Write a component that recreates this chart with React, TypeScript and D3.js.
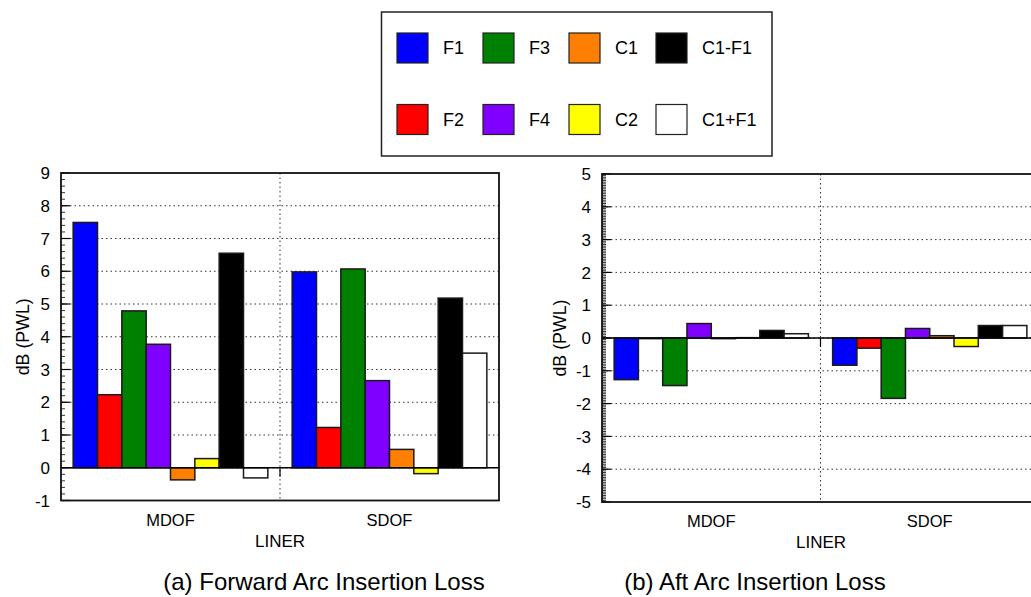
import React from "react";
import * as d3 from "d3";

// liner categories and series (bar order inside each group)
const categories = ["MDOF", "SDOF"];
const seriesNames = ["F1", "F2", "F3", "F4", "C1", "C2", "C1-F1", "C1+F1"];
const seriesColors = ["#0000ff", "#ff0000", "#008000", "#8000ff", "#ff8000", "#ffff00", "#000000", "#ffffff"];

// (a) forward arc insertion loss, dB (PWL)
const forwardMDOF = [7.49, 2.23, 4.79, 3.77, -0.37, 0.28, 6.55, -0.31];
const forwardSDOF = [5.98, 1.23, 6.07, 2.66, 0.56, -0.18, 5.18, 3.5];
// (b) aft arc insertion loss, dB (PWL)
const aftMDOF = [-1.27, -0.02, -1.45, 0.44, -0.02, 0.01, 0.23, 0.13];
const aftSDOF = [-0.83, -0.31, -1.84, 0.29, 0.07, -0.26, 0.38, 0.38];

const forwardTicks = [-1, 0, 1, 2, 3, 4, 5, 6, 7, 8, 9];
const aftTicks = [-5, -4, -3, -2, -1, 0, 1, 2, 3, 4, 5];

const FONT = "'Liberation Sans', Arial, Helvetica, sans-serif";

type PanelProps = {
  left: number;
  top: number;
  width: number;
  height: number;
  ticks: number[];
  minorStep: number;
  values: number[][];
  title: string;
  titleX: number;
  ylabelX: number;
};

const Panel = ({ left, top, width, height, ticks, minorStep, values, title, titleX, ylabelX }: PanelProps) => {
  const y = d3.scaleLinear().domain([ticks[0], ticks[ticks.length - 1]]).range([top + height, top]);
  const x0 = d3.scaleBand().domain(categories).range([left, left + width]).padding(0);
  const x1 = d3.scaleBand().domain(seriesNames).range([0, x0.bandwidth()]).paddingInner(0).paddingOuter(0.5);

  const minor = d3.range(ticks[0], ticks[ticks.length - 1] + 1e-9, minorStep);
  const bottom = top + height;
  const right = left + width;
  const zero = y(0);

  return (
    <g>
      {/* grid */}
      {ticks.slice(1, -1).map((t) => (
        <line key={"g" + t} x1={left} x2={right} y1={y(t)} y2={y(t)} stroke="#333" strokeWidth={1} strokeDasharray="1.5,3" />
      ))}
      {categories.slice(1).map((c) => (
        <line key={"v" + c} x1={x0(c)} x2={x0(c)} y1={top} y2={bottom} stroke="#333" strokeWidth={1} strokeDasharray="1.5,3" />
      ))}

      {/* bars */}
      {categories.map((c, ci) =>
        seriesNames.map((s, si) => {
          const v = values[ci][si];
          const bx = (x0(c) ?? 0) + (x1(s) ?? 0);
          return (
            <rect
              key={c + s}
              x={bx}
              y={Math.min(y(v), zero)}
              width={x1.bandwidth()}
              height={Math.abs(y(v) - zero)}
              fill={seriesColors[si]}
              stroke="#1a1a1a"
              strokeWidth={1.5}
            />
          );
        })
      )}

      {/* zero axis with group ticks */}
      <line x1={left} x2={right} y1={zero} y2={zero} stroke="#000" strokeWidth={1.5} />
      {categories.slice(1).map((c) => (
        <line key={"t" + c} x1={x0(c)} x2={x0(c)} y1={zero} y2={zero + 9} stroke="#000" strokeWidth={1.2} />
      ))}

      {/* minor + major ticks */}
      {minor.map((t, i) => (
        <line key={"m" + i} x1={left} x2={left + 4} y1={y(t)} y2={y(t)} stroke="#000" strokeWidth={0.8} />
      ))}
      {ticks.map((t) => (
        <line key={"M" + t} x1={left} x2={left + 9} y1={y(t)} y2={y(t)} stroke="#000" strokeWidth={1.2} />
      ))}
      {ticks.map((t) => (
        <text key={"l" + t} x={left - 11} y={y(t)} dy="0.36em" textAnchor="end" fontSize={17} fontFamily={FONT}>
          {t}
        </text>
      ))}

      {/* frame */}
      <rect x={left} y={top} width={width} height={height} fill="none" stroke="#111" strokeWidth={1.8} />

      {/* category labels */}
      {categories.map((c) => (
        <text key={"c" + c} x={(x0(c) ?? 0) + x0.bandwidth() / 2} y={bottom + 25} textAnchor="middle" fontSize={16.5} fontFamily={FONT}>
          {c}
        </text>
      ))}
      <text x={left + 219} y={bottom + 46} textAnchor="middle" fontSize={17} fontFamily={FONT}>
        LINER
      </text>
      <text
        transform={`translate(${ylabelX},${(top + bottom) / 2}) rotate(-90)`}
        textAnchor="middle"
        fontSize={17.8}
        fontFamily={FONT}
      >
        dB (PWL)
      </text>
      <text x={titleX} y={590} textAnchor="middle" fontSize={24} fontFamily={FONT}>
        {title}
      </text>
    </g>
  );
};

const Legend = () => {
  const colX = [397, 483, 569, 656];
  const rowY = [33, 104.5];
  return (
    <g>
      <rect x={381.5} y={12} width={390.5} height={144} fill="#fff" stroke="#222" strokeWidth={1.5} />
      {seriesNames.map((s, i) => {
        const cx = colX[Math.floor(i / 2)];
        const cy = rowY[i % 2];
        return (
          <g key={s}>
            <rect x={cx} y={cy} width={31} height={30} fill={seriesColors[i]} stroke="#222" strokeWidth={1.2} />
            <text x={cx + 46} y={cy + 21} fontSize={18} fontFamily={FONT}>
              {s}
            </text>
          </g>
        );
      })}
    </g>
  );
};

export default function App() {
  return (
    <svg
      width={1031}
      height={597}
      style={{ position: "absolute", left: 0, top: 0, background: "#fff" }}
    >
      <rect width={1031} height={597} fill="#fff" />
      <Panel
        left={61}
        top={173}
        width={438}
        height={327.5}
        ticks={forwardTicks}
        minorStep={0.2}
        values={[forwardMDOF, forwardSDOF]}
        title="(a) Forward Arc Insertion Loss"
        titleX={324}
        ylabelX={29}
      />
      <Panel
        left={602}
        top={174}
        width={437}
        height={328}
        ticks={aftTicks}
        minorStep={0.05}
        values={[aftMDOF, aftSDOF]}
        title="(b) Aft Arc Insertion Loss"
        titleX={755}
        ylabelX={566}
      />
      <Legend />
    </svg>
  );
}
